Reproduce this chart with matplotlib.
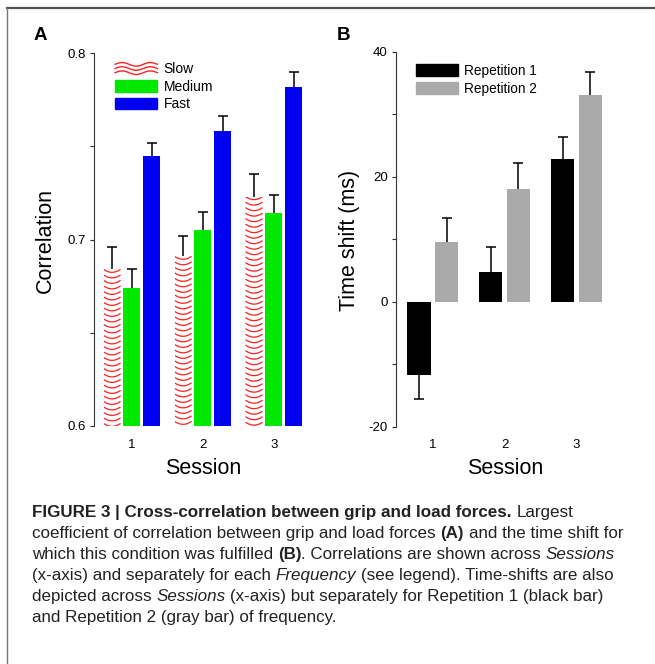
import matplotlib

matplotlib.use("Agg")
import numpy as np
import matplotlib.pyplot as plt
from matplotlib.lines import Line2D
from matplotlib.patches import Patch
from matplotlib.legend_handler import HandlerBase

W, H = 655, 664
plt.rcParams["font.family"] = ["Liberation Sans", "DejaVu Sans"]

# ---------------- data ----------------
sessions = [1, 2, 3]
corr_slow = [0.684, 0.691, 0.723]
corr_medium = [0.674, 0.705, 0.714]
corr_fast = [0.745, 0.758, 0.782]
err_slow = [0.012, 0.011, 0.012]
err_medium = [0.010, 0.010, 0.010]
err_fast = [0.007, 0.008, 0.008]

shift_rep1 = [-11.7, 4.8, 22.8]
shift_rep2 = [9.6, 18.1, 33.0]
err_rep1 = [3.8, 4.0, 3.6]
err_rep2 = [3.8, 4.1, 3.7]

COL = {
    "slow": "#ff2020",
    "medium": "#00e800",
    "fast": "#0000f0",
    "rep1": "#000000",
    "rep2": "#aaaaaa",
    "spine": "#333333",
    "frame": "#555555",
    "caption": "#222222",
}

fig = plt.figure(figsize=(W / 100, H / 100), dpi=100)


def px_axes(l, t, r, b):
    return fig.add_axes([l / W, 1 - b / H, (r - l) / W, (b - t) / H])


def style_axes(ax):
    for s in ("top", "right", "bottom"):
        ax.spines[s].set_visible(False)
    ax.spines["left"].set_color(COL["spine"])
    ax.spines["left"].set_linewidth(0.8)
    ax.tick_params(axis="y", which="both", direction="out", length=3, width=0.8,
                   color=COL["spine"], labelsize=9.5, pad=3)
    ax.tick_params(axis="x", length=0, labelsize=9.5, pad=9)
    ax.set_xticks(sessions)
    ax.set_xticklabels([str(s) for s in sessions])


def one_sided_err(ax, x, v, e):
    # error bar only on the side away from zero / baseline
    v = np.asarray(v, float)
    e = np.asarray(e, float)
    lo = np.where(v < 0, e, 0)
    hi = np.where(v >= 0, e, 0)
    eb = ax.errorbar(x, v, yerr=[lo, hi], fmt="none", ecolor="black",
                     elinewidth=1.1, capsize=3.5, capthick=1.1, zorder=4)
    lo_cap, hi_cap = eb[1]
    lo_idx = [i for i in range(len(v)) if lo[i] > 0]
    hi_idx = [i for i in range(len(v)) if hi[i] > 0]
    for cap, idx in ((lo_cap, lo_idx), (hi_cap, hi_idx)):
        if idx:
            cap.set_markevery(idx)
        else:
            cap.set_visible(False)


def wave_bars(ax, x, v, width, base, step, depth):
    bars = ax.bar(x, np.asarray(v) - base, width, bottom=base, color="white",
                  linewidth=0, zorder=2)
    for rect, top in zip(bars, v):
        x0 = rect.get_x()
        u = np.linspace(-1, 1, 40)
        xs = x0 + width / 2 + u * width / 2
        yk = top
        while yk - depth > base - step:
            ln, = ax.plot(xs, yk - depth * (1 - u ** 2), color=COL["slow"],
                          lw=0.9, zorder=3, solid_capstyle="butt")
            ln.set_clip_path(rect)
            yk -= step
    return bars


class WaveHandler(HandlerBase):
    def create_artists(self, legend, orig_handle, xdescent, ydescent, width,
                       height, fontsize, trans):
        t = np.linspace(0, 1, 60)
        arts = []
        for f in (0.12, 0.5, 0.88):
            y = -ydescent + height * f + height * 0.16 * np.sin(2 * np.pi * 1.5 * t)
            ln = Line2D(-xdescent + width * t, y, color=COL["slow"], lw=1.0)
            ln.set_transform(trans)
            arts.append(ln)
        return arts


# ---------------- panel A ----------------
axA = px_axes(94, 53, 313, 426)
xs = np.asarray(sessions, float)
wA, dA = 0.24, 0.281
wave_bars(axA, xs - dA, corr_slow, wA, 0.6, 0.00295, 0.0016)
axA.bar(xs, np.asarray(corr_medium) - 0.6, wA, bottom=0.6, color=COL["medium"], linewidth=0, zorder=2)
axA.bar(xs + dA, np.asarray(corr_fast) - 0.6, wA, bottom=0.6, color=COL["fast"], linewidth=0, zorder=2)
one_sided_err(axA, xs - dA, corr_slow, err_slow)
one_sided_err(axA, xs, corr_medium, err_medium)
one_sided_err(axA, xs + dA, corr_fast, err_fast)
axA.set_xlim(0.465, 3.55)
axA.set_ylim(0.6, 0.8)
axA.set_yticks([0.6, 0.7, 0.8])
axA.set_yticklabels(["0.6", "0.7", "0.8"])
axA.set_yticks([0.65, 0.75], minor=True)
style_axes(axA)

slow_proxy = Patch(label="Slow")
hA = [slow_proxy,
      Patch(color=COL["medium"], label="Medium"),
      Patch(color=COL["fast"], label="Fast")]
axA.legend(handles=hA, handler_map={slow_proxy: WaveHandler()}, loc="upper left",
           bbox_to_anchor=(0.096, 0.975), frameon=False, fontsize=10,
           handlelength=3.05, handleheight=0.85, handletextpad=0.45,
           labelspacing=0.25, borderpad=0, borderaxespad=0)

fig.text(45 / W, 1 - 240 / H, "Correlation", rotation=90, fontsize=15.5,
         ha="center", va="center")
fig.text(203 / W, 1 - 468 / H, "Session", fontsize=15.5, ha="center", va="center")
fig.text(40 / W, 1 - 35 / H, "A", fontsize=13.5, fontweight="bold", ha="center", va="center")

# ---------------- panel B ----------------
axB = px_axes(396, 51.7, 616, 426.7)
wB, dB = 0.325, 0.1925
axB.bar(xs - dB, shift_rep1, wB, color=COL["rep1"], linewidth=0, zorder=2)
axB.bar(xs + dB, shift_rep2, wB, color=COL["rep2"], linewidth=0, zorder=2)
one_sided_err(axB, xs - dB, shift_rep1, err_rep1)
one_sided_err(axB, xs + dB, shift_rep2, err_rep2)
axB.set_xlim(0.49, 3.55)
axB.set_ylim(-20, 40)
axB.set_yticks([-20, 0, 20, 40])
axB.set_yticklabels(["-20", "0", "20", "40"])
axB.set_yticks([-10, 10, 30], minor=True)
style_axes(axB)

hB = [Patch(color=COL["rep1"], label="Repetition 1"),
      Patch(color=COL["rep2"], label="Repetition 2")]
axB.legend(handles=hB, loc="upper left", bbox_to_anchor=(0.091, 0.968),
           frameon=False, fontsize=9.8, handlelength=3.1, handleheight=0.95,
           handletextpad=0.45, labelspacing=0.28, borderpad=0, borderaxespad=0)

fig.text(350 / W, 1 - 240 / H, "Time shift (ms)", rotation=90, fontsize=15.5,
         ha="center", va="center")
fig.text(505 / W, 1 - 468 / H, "Session", fontsize=15.5, ha="center", va="center")
fig.text(343 / W, 1 - 35 / H, "B", fontsize=13.5, fontweight="bold", ha="center", va="center")

# ---------------- frame ----------------
fig.add_artist(Line2D([7 / W, 1], [1 - 8 / H, 1 - 8 / H], color=COL["frame"], lw=1.6))
fig.add_artist(Line2D([7 / W, 7 / W], [0, 1 - 8 / H], color="#777777", lw=1.0))

# ---------------- caption ----------------
cap_font = "Liberation Sans"
N, B, I = ("normal", "normal"), ("bold", "normal"), ("normal", "italic")
caption = [
    [("FIGURE 3 | Cross-correlation between grip and load forces.", B), (" Largest", N)],
    [("coefficient of correlation between grip and load forces ", N), ("(A)", B),
     (" and the time shift for", N)],
    [("which this condition was fulfilled ", N), ("(B)", B),
     (". Correlations are shown across ", N), ("Sessions", I)],
    [("(x-axis) and separately for each ", N), ("Frequency", I),
     (" (see legend). Time-shifts are also", N)],
    [("depicted across ", N), ("Sessions", I),
     (" (x-axis) but separately for Repetition 1 (black bar)", N)],
    [("and Repetition 2 (gray bar) of frequency.", N)],
]

renderer = fig.canvas.get_renderer()


def text_w(s, size, st):
    t = fig.text(0, 0, s, fontsize=size, fontweight=st[0], fontstyle=st[1], family=cap_font)
    w = t.get_window_extent(renderer).width
    t.remove()
    return w


def draw_line(pieces, x0, y0, size, draw=True):
    sp = text_w("x x", size, N) - text_w("xx", size, N)
    x = x0
    for s, st in pieces:
        lead = len(s) - len(s.lstrip(" "))
        trail = len(s) - len(s.rstrip(" "))
        x += lead * sp
        core = s.strip(" ")
        if draw:
            fig.text(x / W, 1 - y0 / H, core, fontsize=size, fontweight=st[0],
                     fontstyle=st[1], family=cap_font, color=COL["caption"],
                     ha="left", va="baseline")
        x += text_w(core, size, st) + trail * sp
    return x - x0


size = 10.0
size = size * 592 / draw_line(caption[1], 0, 0, size, draw=False)
for i, line in enumerate(caption):
    draw_line(line, 32, 517 + 21 * i, size)

fig.savefig("out.png", dpi=100)
